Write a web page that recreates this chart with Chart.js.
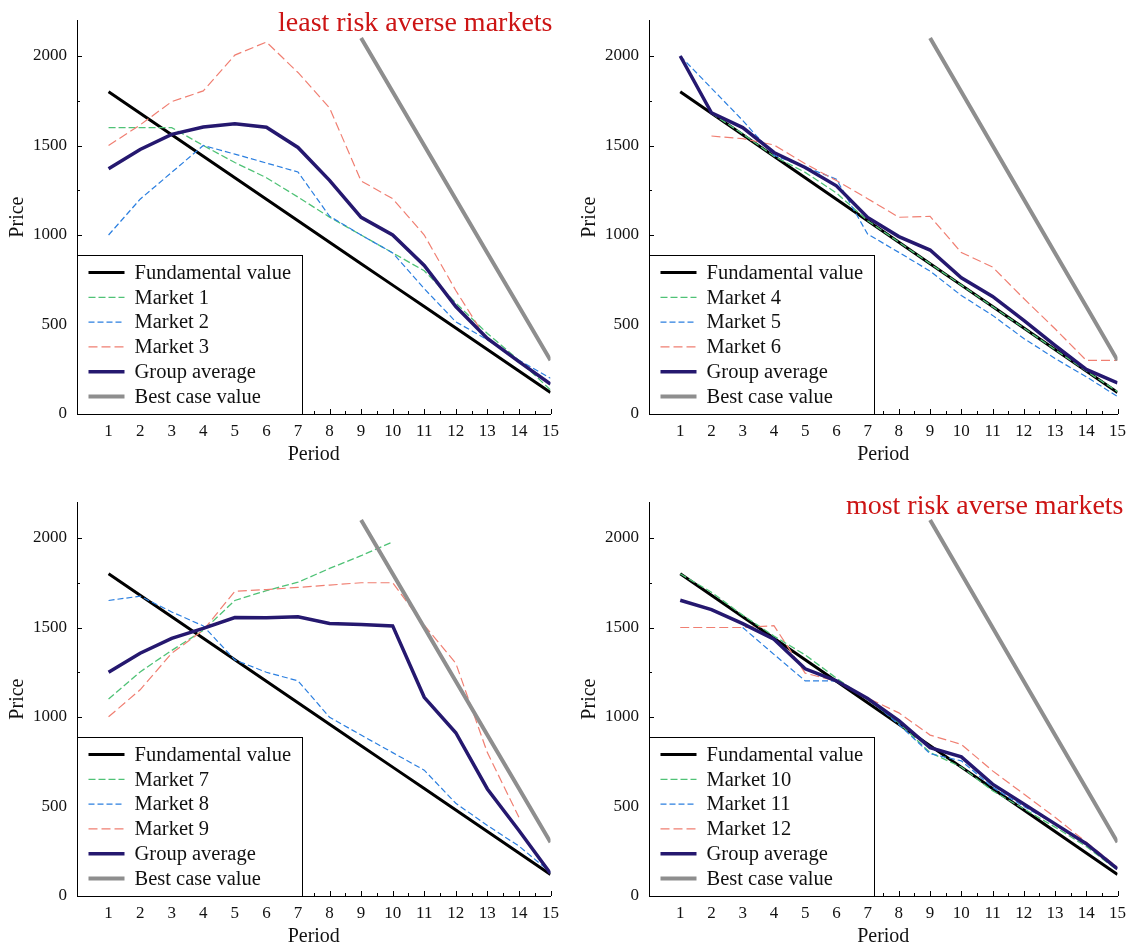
<!DOCTYPE html>
<html>
<head>
<meta charset="utf-8">
<script src="https://cdn.jsdelivr.net/npm/chart.js@4.4.1/dist/chart.umd.min.js"></script>
<style>
  body { margin: 0; background: #fff; width: 1133px; height: 949px; position: relative; overflow: hidden; }
  canvas { position: absolute; }
</style>
</head>
<body>
<canvas id="c1" width="566" height="467" style="left:0;top:0"></canvas>
<canvas id="c2" width="561" height="467" style="left:572px;top:0"></canvas>
<canvas id="c3" width="566" height="467" style="left:0;top:482px"></canvas>
<canvas id="c4" width="561" height="467" style="left:572px;top:482px"></canvas>
<script>
// ---- data ----
const periods = [1, 2, 3, 4, 5, 6, 7, 8, 9, 10, 11, 12, 13, 14, 15];
const yTicks = [0, 500, 1000, 1500, 2000];

const fundamental = [1800, 1680, 1560, 1440, 1320, 1200, 1080, 960, 840, 720, 600, 480, 360, 240, 120];
const bestCase = [null, null, null, null, null, null, null, null, 2100, 1800, 1500, 1200, 900, 600, 300];

// least risk averse markets
const names1 = ['Market 1', 'Market 2', 'Market 3'];
const market1 = [1600, 1600, 1600, 1500, 1405, 1320, 1212, 1100, 1000, 900, 800, 620, 450, 300, 135];
const market2 = [1000, 1200, 1350, 1500, 1452, 1402, 1352, 1105, 1000, 900, 700, 515, 415, 300, 200];
const market3 = [1500, 1615, 1745, 1805, 2005, 2078, 1908, 1710, 1302, 1203, 1000, 690, 410, null, null];
const average1 = [1370, 1478, 1562, 1603, 1622, 1602, 1489, 1305, 1099, 1000, 830, 600, 422, 293, 167];

const names2 = ['Market 4', 'Market 5', 'Market 6'];
const market4 = [null, 1680, 1565, 1440, 1350, 1235, 1080, 960, 840, 720, 600, 480, 360, 240, 125];
const market5 = [2000, 1820, 1640, 1445, 1380, 1312, 1005, 903, 798, 662, 551, 422, 310, 208, 98];
const market6 = [null, 1553, 1538, 1503, 1398, 1304, 1203, 1099, 1104, 902, 821, 645, 476, 300, 300];
const average2 = [2000, 1683, 1600, 1461, 1377, 1275, 1098, 991, 916, 761, 657, 523, 384, 249, 174];

const names3 = ['Market 7', 'Market 8', 'Market 9'];
const market7 = [1100, 1252, 1372, 1484, 1651, 1706, 1753, 1830, 1901, 1978, null, null, null, null, null];
const market8 = [1651, 1675, 1587, 1509, 1319, 1250, 1202, 999, 899, 801, 703, 518, 394, 279, 132];
const market9 = [1001, 1152, 1356, 1485, 1702, 1712, 1724, 1737, 1750, 1750, 1513, 1300, 801, 440, null];
const average3 = [1250, 1356, 1439, 1495, 1556, 1554, 1560, 1522, 1517, 1509, 1110, 912, 598, 366, 126];

// most risk averse markets
const names4 = ['Market 10', 'Market 11', 'Market 12'];
const market10 = [1800, 1697, 1569, 1452, 1347, 1217, 1097, 967, 801, 721, 588, 487, 385, 277, 144];
const market11 = [null, null, 1500, 1350, 1202, 1202, 1106, 958, 795, 755, 607, 500, 403, 292, 155];
const market12 = [1500, 1500, 1500, 1510, 1245, 1200, 1106, 1023, 899, 847, 699, 570, 440, 301, 160];
const average4 = [1652, 1600, 1522, 1435, 1269, 1202, 1103, 980, 829, 777, 625, 514, 403, 292, 152];

// ---- styling ----
const SERIF = "'Liberation Serif', 'Times New Roman', 'DejaVu Serif', serif";
const GREEN = '#4fc276';
const BLUE = '#2b7fe0';
const RED = '#f07f72';
const NAVY = '#25186f';
const GREY = '#8e8e8e';

Chart.defaults.font.family = SERIF;
Chart.defaults.color = '#111';

function pts(values) {
  return periods.map((p, i) => ({ x: p, y: values[i] }));
}

function makeDatasets(names, markets, average) {
  return [
    { label: 'Fundamental value', data: pts(fundamental), borderColor: '#000', borderWidth: 3, order: 5 },
    { label: names[0], data: pts(markets[0]), borderColor: GREEN, borderWidth: 1.3, borderDash: [7, 3], order: 4 },
    { label: names[1], data: pts(markets[1]), borderColor: BLUE, borderWidth: 1.2, borderDash: [6, 3], order: 3 },
    { label: names[2], data: pts(markets[2]), borderColor: RED, borderWidth: 1.2, borderDash: [9, 4], order: 2 },
    { label: 'Group average', data: pts(average), borderColor: NAVY, borderWidth: 3.5, order: 1 },
    { label: 'Best case value', data: pts(bestCase), borderColor: GREY, borderWidth: 4, order: 0 }
  ];
}

// inward tick marks, boxed legend and panel note
const panelDecor = {
  id: 'panelDecor',
  afterDraw(chart, args, opts) {
    const ctx = chart.ctx;
    const a = chart.chartArea;
    const xs = chart.scales.x, ys = chart.scales.y;
    ctx.save();
    ctx.strokeStyle = '#000';
    ctx.lineWidth = 1;
    for (let v = 0.5; v <= 15; v += 0.5) {
      const px = Math.round(xs.getPixelForValue(v)) + 0.5;
      const len = Number.isInteger(v) ? 5 : 3;
      ctx.beginPath(); ctx.moveTo(px, a.bottom); ctx.lineTo(px, a.bottom - len); ctx.stroke();
    }
    for (let v = 250; v <= 2000; v += 250) {
      const py = Math.round(ys.getPixelForValue(v)) + 0.5;
      const len = v % 500 === 0 ? 5 : 3;
      ctx.beginPath(); ctx.moveTo(a.left, py); ctx.lineTo(a.left + len, py); ctx.stroke();
    }

    // legend box
    const bw = 225, bh = 159;
    const bx = Math.round(a.left) + 0.5, by = Math.round(a.bottom - bh) + 0.5;
    ctx.fillStyle = '#fff';
    ctx.fillRect(bx, by, bw, bh);
    ctx.strokeStyle = '#000';
    ctx.lineWidth = 1;
    ctx.strokeRect(bx, by, bw, bh);
    ctx.font = '20.5px ' + SERIF;
    ctx.textBaseline = 'middle';
    ctx.textAlign = 'left';
    chart.data.datasets.forEach((ds, i) => {
      const cy = by + 17 + i * 24.8;
      ctx.beginPath();
      ctx.setLineDash(ds.borderDash || []);
      ctx.strokeStyle = ds.borderColor;
      ctx.lineWidth = ds.borderWidth;
      ctx.moveTo(bx + 11, cy); ctx.lineTo(bx + 47, cy);
      ctx.stroke();
      ctx.setLineDash([]);
      ctx.fillStyle = '#111';
      ctx.fillText(ds.label, bx + 57, cy + 1);
    });

    if (opts.note) {
      ctx.font = '28px ' + SERIF;
      ctx.fillStyle = '#cc1414';
      ctx.textAlign = 'right';
      ctx.textBaseline = 'alphabetic';
      ctx.fillText(opts.note, a.right + opts.noteDx, a.top + opts.noteDy);
    }
    ctx.restore();
  }
};

function makeChart(id, names, markets, average, rightPad, note, noteDx, noteDy) {
  return new Chart(document.getElementById(id), {
    type: 'line',
    data: { datasets: makeDatasets(names, markets, average) },
    options: {
      responsive: false,
      animation: false,
      events: [],
      layout: { padding: { left: 0, top: 18, right: rightPad, bottom: 0 } },
      elements: { point: { radius: 0 }, line: { tension: 0, fill: false } },
      plugins: {
        legend: { display: false },
        tooltip: { enabled: false },
        panelDecor: { note: note, noteDx: noteDx, noteDy: noteDy }
      },
      scales: {
        x: {
          type: 'linear',
          min: 0,
          max: 15,
          grid: { display: false, drawTicks: false },
          border: { display: true, color: '#000', width: 1 },
          ticks: {
            autoSkip: false,
            maxRotation: 0,
            padding: 7,
            font: { size: 17 },
            callback: v => String(v)
          },
          afterBuildTicks: s => { s.ticks = periods.map(v => ({ value: v })); },
          title: { display: true, text: 'Period', font: { size: 20 }, padding: 0, color: '#111' },
          afterFit: s => { s.height = 53; }
        },
        y: {
          min: 0,
          max: 2200,
          grid: { display: false, drawTicks: false },
          border: { display: true, color: '#000', width: 1 },
          ticks: {
            autoSkip: false,
            padding: 10,
            font: { size: 17 },
            callback: v => String(v)
          },
          afterBuildTicks: s => { s.ticks = yTicks.map(v => ({ value: v })); },
          title: { display: true, text: 'Price', font: { size: 20 }, padding: { top: 6, bottom: 0 }, color: '#111' },
          afterFit: s => { s.width = 77; }
        }
      }
    },
    plugins: [panelDecor]
  });
}

makeChart('c1', names1, [market1, market2, market3], average1, 11, 'least risk averse markets', 2, 11);
makeChart('c2', names2, [market4, market5, market6], average2, 9, '', 0, 0);
makeChart('c3', names3, [market7, market8, market9], average3, 11, '', 0, 0);
makeChart('c4', names4, [market10, market11, market12], average4, 9, 'most risk averse markets', 6, 12);
</script>
</body>
</html>
